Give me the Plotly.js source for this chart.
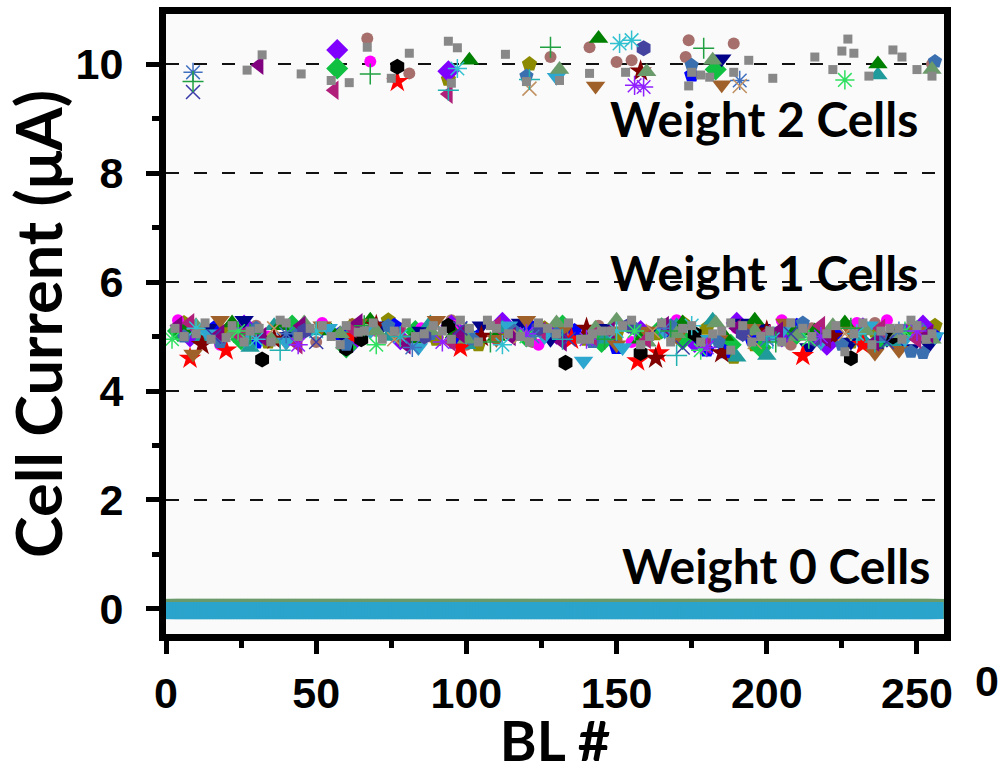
<!DOCTYPE html>
<html>
<head>
<meta charset="utf-8">
<script src="https://cdn.plot.ly/plotly-3.0.1.min.js"></script>
<style>html,body{margin:0;padding:0;background:#fff;}#chart{width:1005px;height:773px;}</style>
</head>
<body>
<div id="chart"></div>
<script>
// ---------------- DATA ----------------
// Bit-line index categories (BL # 1..256)
const BL = [];
for (let b = 1; b <= 256; b++) BL.push(b);

const xTickVals = [0, 50, 100, 150, 200, 250];
const yTickVals = [0, 2, 4, 6, 8, 10];
const labels = ["Weight 2 Cells", "Weight 1 Cells", "Weight 0 Cells"];
const labelCurrents = [9.0, 6.18, 0.8];

// Weight 0 cells: every BL reads ~0 µA (two overlapping measurement sets)
const w0TopCurrent = [
0,0,0,0,0,0,0,0,0,0,0,0,0,0,0,0, 0,0,0,0,0,0,0,0,0,0,0,0,0,0,0,0,
0,0,0,0,0,0,0,0,0,0,0,0,0,0,0,0, 0,0,0,0,0,0,0,0,0,0,0,0,0,0,0,0,
0,0,0,0,0,0,0,0,0,0,0,0,0,0,0,0, 0,0,0,0,0,0,0,0,0,0,0,0,0,0,0,0,
0,0,0,0,0,0,0,0,0,0,0,0,0,0,0,0, 0,0,0,0,0,0,0,0,0,0,0,0,0,0,0,0,
0,0,0,0,0,0,0,0,0,0,0,0,0,0,0,0, 0,0,0,0,0,0,0,0,0,0,0,0,0,0,0,0,
0,0,0,0,0,0,0,0,0,0,0,0,0,0,0,0, 0,0,0,0,0,0,0,0,0,0,0,0,0,0,0,0,
0,0,0,0,0,0,0,0,0,0,0,0,0,0,0,0, 0,0,0,0,0,0,0,0,0,0,0,0,0,0,0,0,
0,0,0,0,0,0,0,0,0,0,0,0,0,0,0,0, 0,0,0,0,0,0,0,0,0,0,0,0,0,0,0,0];
const w0MainCurrent = [
-0.03,-0.03,-0.03,-0.03,-0.03,-0.03,-0.03,-0.03,-0.03,-0.03,-0.03,-0.03,-0.03,-0.03,-0.03,-0.03,
-0.03,-0.03,-0.03,-0.03,-0.03,-0.03,-0.03,-0.03,-0.03,-0.03,-0.03,-0.03,-0.03,-0.03,-0.03,-0.03,
-0.03,-0.03,-0.03,-0.03,-0.03,-0.03,-0.03,-0.03,-0.03,-0.03,-0.03,-0.03,-0.03,-0.03,-0.03,-0.03,
-0.03,-0.03,-0.03,-0.03,-0.03,-0.03,-0.03,-0.03,-0.03,-0.03,-0.03,-0.03,-0.03,-0.03,-0.03,-0.03,
-0.03,-0.03,-0.03,-0.03,-0.03,-0.03,-0.03,-0.03,-0.03,-0.03,-0.03,-0.03,-0.03,-0.03,-0.03,-0.03,
-0.03,-0.03,-0.03,-0.03,-0.03,-0.03,-0.03,-0.03,-0.03,-0.03,-0.03,-0.03,-0.03,-0.03,-0.03,-0.03,
-0.03,-0.03,-0.03,-0.03,-0.03,-0.03,-0.03,-0.03,-0.03,-0.03,-0.03,-0.03,-0.03,-0.03,-0.03,-0.03,
-0.03,-0.03,-0.03,-0.03,-0.03,-0.03,-0.03,-0.03,-0.03,-0.03,-0.03,-0.03,-0.03,-0.03,-0.03,-0.03,
-0.03,-0.03,-0.03,-0.03,-0.03,-0.03,-0.03,-0.03,-0.03,-0.03,-0.03,-0.03,-0.03,-0.03,-0.03,-0.03,
-0.03,-0.03,-0.03,-0.03,-0.03,-0.03,-0.03,-0.03,-0.03,-0.03,-0.03,-0.03,-0.03,-0.03,-0.03,-0.03,
-0.03,-0.03,-0.03,-0.03,-0.03,-0.03,-0.03,-0.03,-0.03,-0.03,-0.03,-0.03,-0.03,-0.03,-0.03,-0.03,
-0.03,-0.03,-0.03,-0.03,-0.03,-0.03,-0.03,-0.03,-0.03,-0.03,-0.03,-0.03,-0.03,-0.03,-0.03,-0.03,
-0.03,-0.03,-0.03,-0.03,-0.03,-0.03,-0.03,-0.03,-0.03,-0.03,-0.03,-0.03,-0.03,-0.03,-0.03,-0.03,
-0.03,-0.03,-0.03,-0.03,-0.03,-0.03,-0.03,-0.03,-0.03,-0.03,-0.03,-0.03,-0.03,-0.03,-0.03,-0.03,
-0.03,-0.03,-0.03,-0.03,-0.03,-0.03,-0.03,-0.03,-0.03,-0.03,-0.03,-0.03,-0.03,-0.03,-0.03,-0.03,
-0.03,-0.03,-0.03,-0.03,-0.03,-0.03,-0.03,-0.03,-0.03,-0.03,-0.03,-0.03,-0.03,-0.03,-0.03,-0.03];

// Weight 1 / Weight 2 cells, one pair of arrays per measured series
const rosy_w1_bl = [12,30,50,70,88,100,115,135,150,160,170,185,200,215,228,240,252,64,178, 5,40,78,95,122,144,192,208,222,236];
const rosy_w1_i  = [5.05,5.2,4.9,5.1,5.0,4.85,5.15,5.0,4.95,5.1,5.2,4.95,5.05,5.15,5.2,4.95,5.1,4.95,4.9, 5.25,5.0,5.15,5.3,4.9,5.2,5.1,4.85,5.0,5.25];
const rosy_w2_bl = [67,81,128,141,150,155,173,174,189,255];
const rosy_w2_i  = [10.47,9.83,10.13,10.31,10.04,10.07,10.13,10.44,10.38,10.0];

const olive_w1_bl = [20,42,62,90,112,126,140,163,180,196,218,236,248,256,189,24, 6,34,52,74,104,150,172,206,228,242];
const olive_w1_i  = [5.1,5.0,5.2,4.95,5.1,5.15,4.95,5.05,5.15,4.85,5.0,5.1,5.15,5.2,4.62,5.0, 5.25,4.9,5.15,5.3,4.85,5.05,5.25,5.2,4.9,5.05];
const olive_w2_bl = [94,121];
const olive_w2_i  = [9.72,10.0];

const violet_w1_bl = [8,45,78,95,130,158,176,205,232,246, 26,62,112,142,190,220,252];
const violet_w1_i  = [5.0,5.1,4.95,5.2,5.05,5.1,4.9,5.0,5.15,5.05, 5.2,4.9,5.25,5.0,5.25,4.85,5.2];
const violet_w2_bl = [57,94];
const violet_w2_i  = [10.26,9.87];

const lime_w1_bl = [25,60,83,120,145,165,188,210,238, 4,42,100,132,172,198,250];
const lime_w1_i  = [4.95,4.8,5.1,5.0,4.9,5.15,4.85,5.05,4.95, 5.1,5.2,5.05,5.2,4.95,4.8,5.1];
const lime_w2_bl = [57,183];
const lime_w2_i  = [9.92,9.9];

const magenta_w1_bl = [18,52,85,110,138,155,190,205,230,250, 4,34,68,96,124,170,216,240];
const magenta_w1_i  = [4.85,5.25,5.15,4.95,5.0,4.9,5.15,5.3,5.25,5.0, 5.3,5.0,5.1,5.2,4.85,5.3,4.95,5.3];
const magenta_w2_bl = [68];
const magenta_w2_i  = [10.05];

const blue_w1_bl = [16,58,96,121,150,168,195,223,244, 30,76,104,136,180,210,232,256,186];
const blue_w1_i  = [5.15,5.05,4.9,5.2,4.8,5.1,4.95,5.05,4.85, 4.9,5.2,5.0,5.1,4.75,5.2,4.9,5.0,4.72];
const blue_w2_bl = [175];
const blue_w2_i  = [9.8];

const navy_w1_bl = [14,40,85,105,128,160,178,198,214,240,254, 26,60,72,118,146,192,228,236,248];
const navy_w1_i  = [5.15,5.0,5.1,5.2,4.95,5.05,4.9,5.15,4.8,4.95,4.85, 5.3,4.95,5.2,5.25,5.15,5.25,4.9,4.72,4.78];
const navy_w2_bl = [185];
const navy_w2_i  = [10.1];

const teal_w1_bl = [12,28,48,74,100,126,146,170,190,210,232,252, 36,62,88,112,160,182,200,242];
const teal_w1_i  = [4.95,4.8,5.1,5.0,4.85,5.1,4.95,5.2,4.62,5.05,4.95,5.1, 5.2,5.1,5.25,5.15,4.9,5.3,4.65,4.9];
const teal_w2_bl = [237];
const teal_w2_i  = [9.8];

const green_w1_bl = [22,55,82,110,140,172,186,208,226, 6,38,68,96,124,158,196,216,246];
const green_w1_i  = [5.25,5.1,4.95,5.0,5.05,5.25,5.0,5.15,5.25, 5.1,5.2,5.3,5.05,5.15,4.95,5.3,5.1,5.0];
const green_w2_bl = [101,144,237];
const green_w2_i  = [10.07,10.47,10.0];

const red_w1_bl = [8,20,62,98,135,157,164,212,232];
const red_w1_i  = [4.6,4.75,5.0,4.8,4.95,4.55,4.7,4.65,4.85];
const red_w2_bl = [77];
const red_w2_i  = [9.68];

const maroon_w1_bl = [12,36,70,105,140,163,185,200,222];
const maroon_w1_i  = [4.85,4.95,5.2,5.0,5.15,4.6,4.7,5.1,5.0];
const maroon_w2_bl = [158];
const maroon_w2_i  = [9.87];

const black_w1_bl = [32,65,94,133,158,176,228,242,60];
const black_w1_i  = [4.58,4.95,5.2,4.52,4.7,5.05,4.6,5.0,4.78];
const black_w2_bl = [77];
const black_w2_i  = [9.95];

const brown_w1_bl = [9,28,52,78,90,132,150,170,195,218,236,250, 18,40,64,110,120,160,184,206,228,244];
const brown_w1_i  = [4.68,5.05,5.2,4.95,5.3,5.1,4.85,5.0,5.15,4.9,4.7,5.1, 5.3,4.9,5.25,4.95,5.3,5.1,4.95,5.25,5.1,4.75];
const brown_w2_bl = [143,185];
const brown_w2_i  = [9.6,9.62];

const sky_w1_bl = [14,40,68,100,139,152,181,205,246, 26,54,84,114,126,166,192,218,234,256];
const sky_w1_i  = [5.05,4.9,5.1,5.0,4.55,4.8,4.95,5.1,4.95, 4.95,5.15,4.8,5.2,5.0,5.1,5.05,4.9,5.2,5.0];
const sky_w2_bl = [130];
const sky_w2_i  = [9.76];

const steel_w1_bl = [6,30,60,88,116,142,168,200,225,248, 18,44,74,102,130,156,184,212,238,252];
const steel_w1_i  = [5.0,5.15,4.85,5.05,5.1,4.9,5.2,5.0,4.85,4.72, 4.9,5.05,5.2,4.95,5.05,5.15,4.9,5.25,5.0,4.7];
const steel_w2_bl = [120,175,256];
const steel_w2_i  = [9.78,9.98,10.05];

const sage_w1_bl = [10,35,58,88,118,143,150,170,183,210,233,255, 22,46,70,100,130,160,196,222,244];
const sage_w1_i  = [5.2,4.95,5.05,5.1,5.0,5.15,5.3,5.05,5.25,5.0,5.1,4.95, 5.05,5.25,5.1,4.95,5.25,4.9,5.1,5.2,5.05];
const sage_w2_bl = [131,160,182,255];
const sage_w2_i  = [9.9,9.86,10.07,9.9];

const plum_w1_bl = [25,62,95,125,160,200,238, 8,44,78,110,142,180,218,250];
const plum_w1_i  = [5.0,5.15,4.9,5.1,4.95,5.05,5.15, 5.25,4.85,5.05,5.2,5.0,4.85,5.2,4.95];
const plum_w2_bl = [56,94];
const plum_w2_i  = [9.52,9.45];

const purple_w1_bl = [18,45,80,115,148,190,220,254, 4,32,64,98,132,166,204,236];
const purple_w1_i  = [5.05,5.2,4.85,5.0,5.1,5.15,4.95,5.05, 5.2,5.0,5.25,5.05,4.9,5.2,5.1,4.9];
const purple_w2_bl = [31];
const purple_w2_i  = [9.98];

const cyanAst_w1_bl = [10,30,50,78,112,150,175,202,230];
const cyanAst_w1_i  = [5.15,4.95,5.1,5.0,4.85,5.1,5.2,4.95,5.05];
const cyanAst_w2_bl = [97,151,155];
const cyanAst_w2_i  = [9.92,10.38,10.44];

const mintAst_w1_bl = [2,24,70,120,156,178,214,246];
const mintAst_w1_i  = [4.95,5.1,4.85,5.0,5.1,4.75,4.95,5.1];
const mintAst_w2_bl = [226];
const mintAst_w2_i  = [9.71];

const blueAst_w1_bl = [40,82,122,166,200,244];
const blueAst_w1_i  = [5.05,4.8,5.0,5.15,4.95,5.1];
const blueAst_w2_bl = [9,191];
const blueAst_w2_i  = [9.85,9.7];

const navyX_w1_bl = [16,50,98,134,172,208,240];
const navyX_w1_i  = [5.0,4.9,5.15,4.95,4.8,5.05,4.9];
const navyX_w2_bl = [9];
const navyX_w2_i  = [9.49];

const tanX_w1_bl = [36,76,118,162,196,226];
const tanX_w1_i  = [5.15,4.95,5.0,5.1,4.9,5.05];
const tanX_w2_bl = [121,191];
const tanX_w2_i  = [9.55,9.6];

const greenPlus_w1_bl = [28,66,108,146,168,203,228];
const greenPlus_w1_i  = [5.05,5.2,4.9,4.95,5.1,4.9,5.15];
const greenPlus_w2_bl = [9,68,128,179];
const greenPlus_w2_i  = [9.68,9.82,10.31,10.29];

const purpleAst_w1_bl = [44,92,120,140,180,218,250];
const purpleAst_w1_i  = [4.85,4.9,5.05,4.95,4.8,5.0,5.1];
const purpleAst_w2_bl = [156,159];
const purpleAst_w2_i  = [9.61,9.58];

const tealPlus_w1_bl = [38,78,132,170,200,236];
const tealPlus_w1_i  = [4.75,5.0,4.95,4.65,5.0,4.9];
const tealPlus_w2_bl = [94,121];
const tealPlus_w2_i  = [9.52,9.72];

const slate_w1_bl = [46,86,124,154,192,216];
const slate_w1_i  = [5.1,5.0,5.15,5.2,5.05,4.95];
const slate_w2_bl = [159];
const slate_w2_i  = [10.29];

const gray_w1_bl = [3,10,15,22,28,35,40,48,55,60,66,72,80,86,92,98,104,110,118,124,130,138,145,152,158,165,172,178,185,192,198,205,212,220,226,232,238,245,250,255,20,64,108,142,188,244,
  6,13,26,31,38,44,52,58,69,76,83,89,95,101,107,114,121,127,134,141,148,155,161,168,175,182,188,195,201,208,215,223,229,235,241,248,253];
const gray_w1_i  = [5.15,5.05,4.95,5.2,5.1,4.9,5.25,5.15,5.0,5.2,5.1,4.95,5.25,5.05,5.1,5.3,4.9,5.15,5.0,5.25,5.05,4.95,5.1,5.2,4.85,5.25,5.15,4.9,5.1,5.2,5.0,4.9,5.15,5.05,4.72,5.25,5.1,4.95,5.2,5.05,4.98,5.08,5.2,5.05,4.75,5.15,
  5.0,5.25,4.9,5.15,5.3,5.0,5.2,4.85,5.25,5.1,5.0,5.2,4.95,5.15,5.3,5.05,4.9,5.15,5.25,4.95,5.1,5.3,5.0,4.9,5.2,5.05,5.25,4.9,5.1,5.25,5.0,5.2,5.05,4.85,5.15,5.3,4.95];
const gray_w2_bl = [27,32,45,55,61,67,75,81,94,97,95,113,120,131,141,153,175,174,178,181,189,194,202,216,227,225,229,222,242,245,234,250,255];
const gray_w2_i  = [9.89,10.17,9.82,9.7,9.66,10.31,9.74,10.2,10.42,10.3,9.65,10.18,9.68,9.7,9.83,9.85,9.85,9.6,9.8,9.76,9.85,10.07,9.74,10.13,10.46,10.24,10.2,9.9,10.26,10.13,9.78,9.9,9.78];

// ---------------- STYLES ----------------
const seriesList = [
  ['rosy', rosy_w1_bl, rosy_w1_i, rosy_w2_bl, rosy_w2_i, 'circle', '#a66f6b', 12],
  ['olive', olive_w1_bl, olive_w1_i, olive_w2_bl, olive_w2_i, 'pentagon', '#8b8a00', 16],
  ['violet', violet_w1_bl, violet_w1_i, violet_w2_bl, violet_w2_i, 'diamond', '#8000ff', 17],
  ['lime', lime_w1_bl, lime_w1_i, lime_w2_bl, lime_w2_i, 'diamond', '#10c040', 17],
  ['magenta', magenta_w1_bl, magenta_w1_i, magenta_w2_bl, magenta_w2_i, 'circle', '#ff00ff', 12],
  ['blue', blue_w1_bl, blue_w1_i, blue_w2_bl, blue_w2_i, 'pentagon', '#0000ff', 16],
  ['navy', navy_w1_bl, navy_w1_i, navy_w2_bl, navy_w2_i, 'triangle-down', '#000088', 17],
  ['teal', teal_w1_bl, teal_w1_i, teal_w2_bl, teal_w2_i, 'triangle-up', '#1f9b9b', 17],
  ['green', green_w1_bl, green_w1_i, green_w2_bl, green_w2_i, 'triangle-up', '#008000', 17],
  ['red', red_w1_bl, red_w1_i, red_w2_bl, red_w2_i, 'star', '#ff0000', 17],
  ['maroon', maroon_w1_bl, maroon_w1_i, maroon_w2_bl, maroon_w2_i, 'star', '#800000', 17],
  ['black', black_w1_bl, black_w1_i, black_w2_bl, black_w2_i, 'hexagon', '#000000', 16],
  ['brown', brown_w1_bl, brown_w1_i, brown_w2_bl, brown_w2_i, 'triangle-down', '#a0602a', 17],
  ['sky', sky_w1_bl, sky_w1_i, sky_w2_bl, sky_w2_i, 'triangle-down', '#2ea7d0', 17],
  ['steel', steel_w1_bl, steel_w1_i, steel_w2_bl, steel_w2_i, 'pentagon', '#3a70b0', 15],
  ['sage', sage_w1_bl, sage_w1_i, sage_w2_bl, sage_w2_i, 'triangle-up', '#6b9a6b', 17],
  ['plum', plum_w1_bl, plum_w1_i, plum_w2_bl, plum_w2_i, 'triangle-left', '#b0207a', 17],
  ['purple', purple_w1_bl, purple_w1_i, purple_w2_bl, purple_w2_i, 'triangle-left', '#800080', 17],
  ['slate', slate_w1_bl, slate_w1_i, slate_w2_bl, slate_w2_i, 'hexagon', '#4444a0', 16],
  ['cyanAst', cyanAst_w1_bl, cyanAst_w1_i, cyanAst_w2_bl, cyanAst_w2_i, 'asterisk-open', '#30c0d0', 16],
  ['mintAst', mintAst_w1_bl, mintAst_w1_i, mintAst_w2_bl, mintAst_w2_i, 'asterisk-open', '#30e060', 16],
  ['blueAst', blueAst_w1_bl, blueAst_w1_i, blueAst_w2_bl, blueAst_w2_i, 'asterisk-open', '#4070c0', 16],
  ['navyX', navyX_w1_bl, navyX_w1_i, navyX_w2_bl, navyX_w2_i, 'x-thin-open', '#3a3aa8', 14],
  ['tanX', tanX_w1_bl, tanX_w1_i, tanX_w2_bl, tanX_w2_i, 'x-thin-open', '#c09060', 14],
  ['greenPlus', greenPlus_w1_bl, greenPlus_w1_i, greenPlus_w2_bl, greenPlus_w2_i, 'cross-thin-open', '#20a040', 15],
  ['purpleAst', purpleAst_w1_bl, purpleAst_w1_i, purpleAst_w2_bl, purpleAst_w2_i, 'asterisk-open', '#9020ff', 16],
  ['tealPlus', tealPlus_w1_bl, tealPlus_w1_i, tealPlus_w2_bl, tealPlus_w2_i, 'cross-thin-open', '#20b0b0', 15],
  ['gray', gray_w1_bl, gray_w1_i, gray_w2_bl, gray_w2_i, 'square', '#888888', 9]
];

const traces = [
  {type:'scatter', mode:'markers', name:'W0 a', x: BL, y: w0TopCurrent,
   marker:{symbol:'square', size:20, color:'#6a9a6a'}},
  {type:'scatter', mode:'markers', name:'W0 b', x: BL, y: w0MainCurrent,
   marker:{symbol:'square', size:17, color:'#2ba4cc'}}
];
seriesList.forEach(s => {
  const open = s[5].indexOf('open') >= 0;
  traces.push({
    type:'scatter', mode:'markers', name:s[0],
    x: s[1].concat(s[3]), y: s[2].concat(s[4]),
    marker: open
      ? {symbol:s[5], size:s[7], color:s[6], line:{color:s[6], width:1.5}}
      : {symbol:s[5], size:s[7], color:s[6], line:{width:0}}
  });
});

const tickFamily = 'Liberation Sans, Arial, sans-serif';
const titleFamily = 'Lato, Open Sans, sans-serif';
const annFont = {family:titleFamily, size:48, color:'#000', weight:'bold'};

const layout = {
  width:1005, height:773,
  paper_bgcolor:'#ffffff', plot_bgcolor:'#fafafa',
  margin:{l:166, r:61, t:14, b:139, pad:0},
  showlegend:false,
  xaxis:{
    range:[0, 259], tickvals: xTickVals, ticktext: xTickVals.map(String),
    showline:true, linewidth:7, linecolor:'#000', mirror:true,
    ticks:'outside', ticklen:13, tickwidth:5, tickcolor:'#000',
    minor:{dtick:25, tick0:0, ticks:'outside', ticklen:7, tickwidth:5, tickcolor:'#000', showgrid:false},
    showgrid:false, zeroline:false,
    tickfont:{family:tickFamily, size:43, color:'#000', weight:'bold'},
    ticklabelstandoff: 2,
    title:{text:'BL #', font:{family:titleFamily, size:56, color:'#000', weight:'bold'}, standoff:14}
  },
  yaxis:{
    range:[-0.46, 10.92], tickvals: yTickVals, ticktext: yTickVals.map(String),
    showline:true, linewidth:7, linecolor:'#000', mirror:true,
    ticks:'outside', ticklen:13, tickwidth:5, tickcolor:'#000',
    minor:{dtick:1, tick0:0, ticks:'outside', ticklen:7, tickwidth:5, tickcolor:'#000', showgrid:false},
    showgrid:true, gridcolor:'#111', gridwidth:2.5, griddash:'13px,15px',
    zeroline:false,
    tickfont:{family:tickFamily, size:43, color:'#000', weight:'bold'},
    ticklabelstandoff: 14,
    title:{text:'Cell Current (μA)', font:{family:titleFamily, size:63, color:'#000', weight:'bold'}, standoff:0}
  },
  annotations:[
    {x:251, y:labelCurrents[0], xref:'x', yref:'y', text:labels[0], showarrow:false, xanchor:'right', yanchor:'middle', font:annFont},
    {x:251, y:labelCurrents[1], xref:'x', yref:'y', text:labels[1], showarrow:false, xanchor:'right', yanchor:'middle', font:annFont},
    {x:255, y:labelCurrents[2], xref:'x', yref:'y', text:labels[2], showarrow:false, xanchor:'right', yanchor:'middle', font:annFont},
    {x:1.055, y:-0.075, xref:'paper', yref:'paper', text:'0', showarrow:false, xanchor:'center', yanchor:'middle',
     font:{family:tickFamily, size:43, color:'#000', weight:'bold'}}
  ]
};

Plotly.newPlot('chart', traces, layout, {displayModeBar:false, staticPlot:true});
</script>
</body>
</html>
